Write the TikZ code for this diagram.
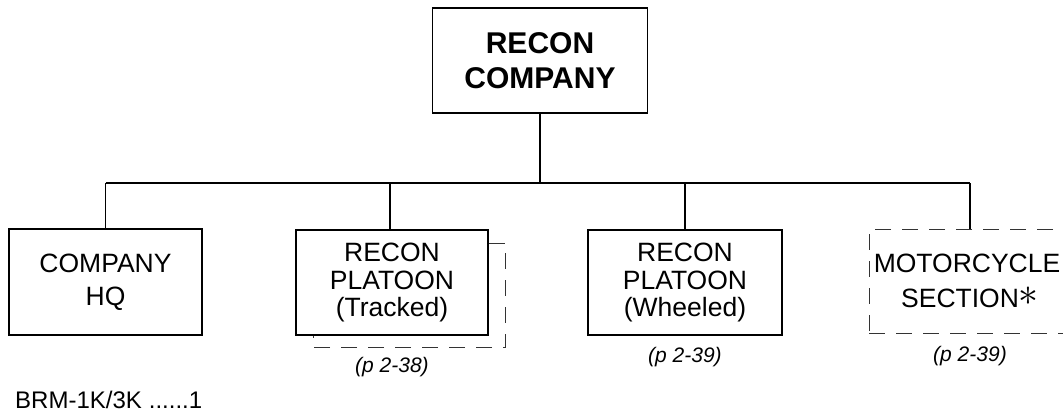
\documentclass[tikz,border=0pt]{standalone}
\usepackage{fontspec}
\usepackage{graphicx}
\setmainfont{Liberation Sans}
\usetikzlibrary{calc}
\begin{document}
\begin{tikzpicture}[x=1pt,y=-1pt,
  unit/.style={draw,line width=1.4pt,align=center,inner sep=0pt},
  dashbox/.style={draw=black!80,line width=0.9pt,dash pattern=on 16pt off 11pt},
  link/.style={line width=1.4pt},
  pg/.style={font=\fontsize{21}{24}\selectfont\itshape,inner sep=0pt}]
\useasboundingbox (0,0) rectangle (1063,413);
\clip (0,0) rectangle (1063,413);
\node[unit,minimum width=215pt,minimum height=105pt,font=\fontsize{30}{35}\selectfont\bfseries] (co) at (540,60.5) {RECON\\COMPANY};
\node[unit,minimum width=193pt,minimum height=106pt,font=\fontsize{26.5}{33}\selectfont] (hq) at (105.5,282) {COMPANY\\HQ};
\node[unit,minimum width=192pt,minimum height=105pt,font=\fontsize{26.5}{27.5}\selectfont] (trk) at (392,282.5) {RECON\\PLATOON\\(Tracked)};
\node[unit,minimum width=194pt,minimum height=105pt,font=\fontsize{26.5}{27.5}\selectfont] (whl) at (685,282.5) {RECON\\PLATOON\\(Wheeled)};
\node[dashbox,minimum width=202pt,minimum height=104pt,align=center,inner sep=0pt,font=\fontsize{26.5}{35}\selectfont] (mc) at (970,281) {\hspace*{-6pt}MOTORCYCLE\\SECTION\raisebox{2pt}{\scalebox{1.6}{$\ast$}}};
% shadow of tracked platoon
\draw[dashbox] ($(trk.north east)+(0,14)$) -| ($(trk.south east)+(17,12)$) -| ($(trk.south west)+(18,0)$);
% connectors
\coordinate (bus) at (0,183);
\draw[link] (co.south) -- (co.south |- bus);
\draw[link] (hq.north |- bus) -- (mc.north |- bus);
\draw[link] (hq.north |- bus) -- (hq.north);
\draw[link] ([xshift=-2pt]trk.north |- bus) -- ([xshift=-2pt]trk.north);
\draw[link] (whl.north |- bus) -- (whl.north);
\draw[link] (mc.north |- bus) -- (mc.north);
% page refs
\node[pg] (p1) at (392,367) {(p 2-38)};
\node[pg] (p2) at (685,357) {(p 2-39)};
\node[pg] (p3) at (970,356) {(p 2-39)};
\node[font=\fontsize{24}{26}\selectfont,inner sep=0pt,anchor=west] (brm) at (15,400) {BRM-1K/3K\hspace{7pt}......1};
\end{tikzpicture}
\end{document}
